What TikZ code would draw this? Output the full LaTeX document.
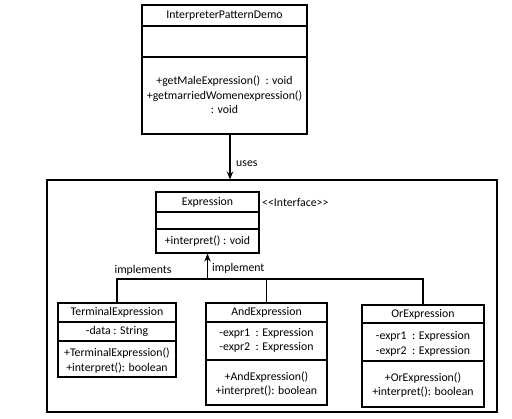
\documentclass[tikz,border=0pt]{standalone}
\usepackage{fontspec}
\setmainfont{Carlito}
\usetikzlibrary{arrows.meta,calc}
\begin{document}
\begin{tikzpicture}[x=1pt,y=-1pt,
  box/.style={draw,line width=1.1pt,inner sep=0pt},
  txt/.style={inner sep=0pt,align=center,font=\fontsize{11.8}{14.5}\selectfont},
  conn/.style={line width=1.1pt},
  arr/.style={line width=1.1pt,-{Stealth[length=8pt,width=6.5pt]}}]
\useasboundingbox (0,0) rectangle (512,419);
% outer frame
\node[box,minimum width=450pt,minimum height=232pt] (outer) at (272,296) {};
% demo class
\node[box,minimum width=165pt,minimum height=129pt] (demo) at (224.5,69.5) {};
\draw[conn] (demo.west |- 0,26) -- (demo.east |- 0,26);
\draw[conn] (demo.west |- 0,57) -- (demo.east |- 0,57);
\node[txt] (demot) at (224.5,15.5) {InterpreterPatternDemo};
\node[txt] (demom) at (224.5,95) {+getMaleExpression()\ \ : void\\+getmarriedWomenexpression()\\: void};
% Expression
\node[box,minimum width=103pt,minimum height=61pt] (expr) at (207.5,222.5) {};
\draw[conn] (expr.west |- 0,212) -- (expr.east |- 0,212);
\draw[conn] (expr.west |- 0,229) -- (expr.east |- 0,229);
\node[txt] (exprt) at (207.5,202) {Expression};
\node[txt] (exprm) at (207.5,241) {+interpret() : void};
\node[txt,anchor=west] (iface) at (262,203) {<{}<Interface>{}>};
% Terminal
\node[box,minimum width=118pt,minimum height=74pt] (term) at (117,340) {};
\draw[conn] (term.west |- 0,322) -- (term.east |- 0,322);
\draw[conn] (term.west |- 0,341) -- (term.east |- 0,341);
\node[txt] (termt) at (117,312) {TerminalExpression};
\node[txt] (terma) at (117,331) {-data : String};
\node[txt] (termm) at (117,360.5) {+TerminalExpression()\\+interpret(): boolean};
% And
\node[box,minimum width=121pt,minimum height=102pt] (andx) at (266.5,354) {};
\draw[conn] (andx.west |- 0,322) -- (andx.east |- 0,322);
\draw[conn] (andx.west |- 0,360) -- (andx.east |- 0,360);
\node[txt] (andt) at (266.5,312) {AndExpression};
\node[txt] (anda) at (266.5,340.5) {-expr1\ \ : Expression\\-expr2\ \ : Expression};
\node[txt] (andm) at (266.5,384) {+AndExpression()\\+interpret(): boolean};
% Or
\node[box,minimum width=122pt,minimum height=102pt] (orx) at (423,356) {};
\draw[conn] (orx.west |- 0,323) -- (orx.east |- 0,323);
\draw[conn] (orx.west |- 0,361) -- (orx.east |- 0,361);
\node[txt] (ort) at (423,314) {OrExpression};
\node[txt] (ora) at (423,344) {-expr1\ \ : Expression\\-expr2\ \ : Expression};
\node[txt] (orm) at (423,385) {+OrExpression()\\+interpret(): boolean};
% uses
\draw[arr] ([xshift=5.5pt]demo.south) -- ([xshift=5.5pt]demo.south |- outer.north);
\node[txt,anchor=west] (uses) at (236,164) {uses};
% implementations
\coordinate (j) at (207.5,279);
\draw[conn] (term.north) |- (orx.north |- j) -- (orx.north);
\draw[conn] (andx.north) -- (andx.north |- j);
\draw[arr] (j) -- (expr.south);
\node[txt] (impls) at (143,270) {implements};
\node[txt,anchor=west] (impl) at (212,268) {implement};
\end{tikzpicture}
\end{document}
